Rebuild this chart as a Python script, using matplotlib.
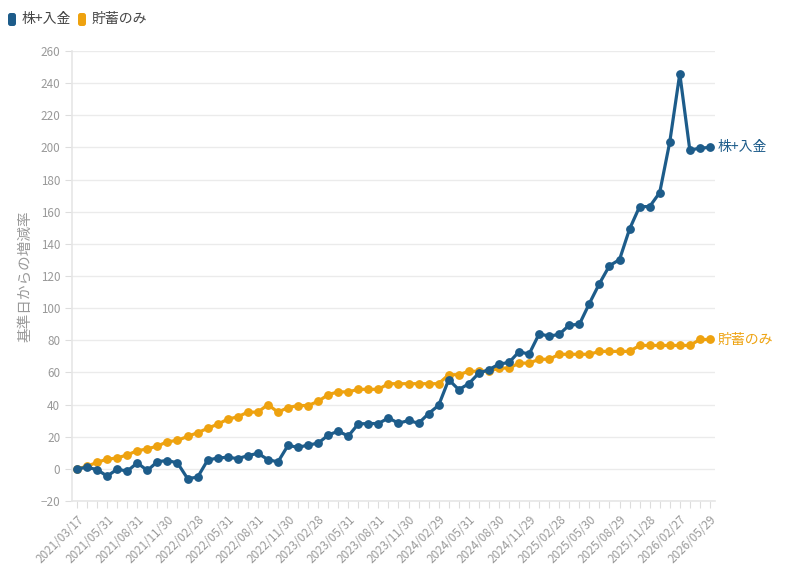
import numpy as np
import matplotlib
matplotlib.use("Agg")
import matplotlib.pyplot as plt
from matplotlib.patches import FancyBboxPatch

plt.rcParams['font.family'] = ['Noto Sans CJK JP', 'DejaVu Sans']

# 株+入金 (monthly, 64 points)
kabu = [0, 1, -0.5, -4.5, -0.2, -1.4, 3.7, -1, 4.5, 5.2,
        3.7, -6, -5.2, 5.4, 6.8, 7.2, 6.4, 8.2, 9.7, 5.8,
        4.3, 14.6, 13.4, 14.8, 16, 21, 23.5, 20.4, 28, 28.2,
        28.2, 31.7, 28.4, 30.1, 28.4, 34.4, 39.6, 55.5, 49.3, 53,
        59.6, 61.7, 65.2, 66.2, 72.9, 71.4, 84, 82.6, 83.7, 89.5,
        89.9, 102.9, 115.3, 126.4, 130.2, 149.2, 163.2, 163.2, 171.9, 203.3,
        245.9, 198.3, 199.6, 200]
# 貯蓄のみ
chokin = [0, 1.6, 4.1, 6, 6.8, 8.7, 11.3, 12.4, 14.2, 16.9,
          17.7, 20.2, 22.5, 25.2, 27.8, 30.9, 32.4, 35.3, 35.3, 40,
          35.3, 38.1, 39.4, 39.4, 42, 46.2, 47.9, 47.9, 49.5, 49.5,
          49.5, 53, 53, 53, 53, 53, 53, 58.6, 58.6, 60.7,
          60.7, 60.7, 62.7, 62.7, 65.8, 65.8, 68.2, 68.2, 71.3, 71.3,
          71.3, 71.3, 73.1, 73.1, 73.1, 73.1, 76.8, 76.8, 76.8, 76.8,
          76.8, 76.8, 80.5, 80.5]
date_labels = ["2021/03/17", "2021/05/31", "2021/08/31", "2021/11/30", "2022/02/28",
               "2022/05/31", "2022/08/31", "2022/11/30", "2023/02/28", "2023/05/31",
               "2023/08/31", "2023/11/30", "2024/02/29", "2024/05/31", "2024/08/30",
               "2024/11/29", "2025/02/28", "2025/05/30", "2025/08/29", "2025/11/28",
               "2026/02/27", "2026/05/29"]

blue = '#1d5c8a'
orange = '#eea20f'
gray = '#999999'

x = np.arange(len(kabu))

fig = plt.figure(figsize=(7.86, 5.72), dpi=100)
ax = fig.add_axes([0.0916, 0.1241, 0.818, 0.7867])

ax.plot(x, chokin, color=orange, lw=2.3, marker='o', ms=5.3, zorder=3)
ax.plot(x, kabu, color=blue, lw=2.3, marker='o', ms=5.3, zorder=4)

ax.set_xlim(-0.5, len(kabu) - 0.5)
ax.set_ylim(-20, 260)
ax.set_yticks(np.arange(-20, 261, 20))
ax.grid(axis='y', color='#ebebeb', lw=1)
ax.set_axisbelow(True)

labels = [''] * len(kabu)
for k, lab in enumerate(date_labels):
    labels[k * 3] = lab
ax.set_xticks(x)
ax.set_xticklabels(labels, rotation=45, ha='right', rotation_mode='anchor')

ax.tick_params(axis='both', colors='#dddddd', labelcolor=gray, labelsize=8.4, length=5)
for s in ['top', 'right']:
    ax.spines[s].set_visible(False)
for s in ['left', 'bottom']:
    ax.spines[s].set_color('#e6e6e6')
    ax.spines[s].set_linewidth(1.2)

ax.set_ylabel("基準日からの増減率", color=gray, fontsize=10.5, labelpad=6)

ax.text(len(kabu) - 0.5 + 0.3, kabu[-1], "株+入金", color=blue, fontsize=10,
        va='center', ha='left', clip_on=False)
ax.text(len(kabu) - 0.5 + 0.3, chokin[-1], "貯蓄のみ", color=orange, fontsize=10,
        va='center', ha='left', clip_on=False)

# legend drawn by hand (rounded tall markers)
tr = fig.dpi_scale_trans
for x0, col, txt in [(0.08, blue, "株+入金"), (0.78, orange, "貯蓄のみ")]:
    fig.add_artist(FancyBboxPatch((x0, 5.46), 0.08, 0.13,
                                  boxstyle='round,pad=0,rounding_size=0.025',
                                  transform=tr, facecolor=col, edgecolor='none'))
    fig.text(x0 + 0.14, 5.53, txt, transform=tr, color='#444444', fontsize=10,
             va='center', ha='left')

fig.savefig('out.png', dpi=100)
